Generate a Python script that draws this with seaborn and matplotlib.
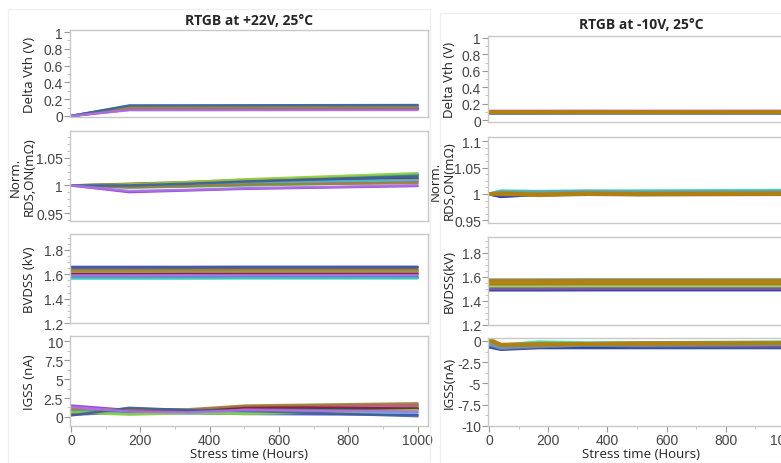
import numpy as np
import pandas as pd
import matplotlib
matplotlib.use("Agg")
import matplotlib.pyplot as plt
import seaborn as sns
from matplotlib.patches import Rectangle
from matplotlib.ticker import AutoMinorLocator

sns.set_style("white")
plt.rcParams['font.family'] = ['Open Sans', 'DejaVu Sans']

# ---------------- data ----------------
left_title = "RTGB at +22V, 25°C"
right_title = "RTGB at -10V, 25°C"
left_ylabels = ["Delta Vth (V)", "RDS,ON(mΩ)", "BVDSS (kV)", "IGSS (nA)"]
right_ylabels = ["Delta Vth (V)", "RDS,ON(mΩ)", "BVDSS(kV)", "IGSS(nA)"]
rds_prefix = "Norm."
xlabel = "Stress time (Hours)"

left_times = [0, 168, 336, 504, 1000]
right_times = [0, 40, 168, 336, 504, 1000]

left_colors = ["#8a3fd8", "#2fb84f", "#3f3fbf", "#1f9f8f", "#a0522d", "#d04f9f",
               "#7f1f2f", "#3fc8c8", "#8fcf3f", "#9f7f3f", "#3f5f9f", "#b070e8"]
right_colors = ["#e07fe0", "#3fd8a0", "#2f2fc8", "#1f3f8f", "#8fcf3f", "#7f5f9f",
                "#5f9fbf", "#c05f3f", "#9f7f3f", "#a87a20", "#b8860b", "#b08010"]

L_VTH = [[0, 0.075, 0.076, 0.076, 0.078], [0, 0.110, 0.110, 0.112, 0.115],
         [0, 0.090, 0.090, 0.090, 0.092], [0, 0.120, 0.120, 0.121, 0.125],
         [0, 0.100, 0.100, 0.101, 0.104], [0, 0.095, 0.096, 0.096, 0.098],
         [0, 0.085, 0.086, 0.086, 0.088], [0, 0.115, 0.116, 0.116, 0.120],
         [0, 0.105, 0.105, 0.106, 0.108], [0, 0.098, 0.099, 0.100, 0.102],
         [0, 0.125, 0.126, 0.127, 0.130], [0, 0.070, 0.070, 0.071, 0.072]]
L_RDS = [[1, 0.988, 0.991, 0.994, 0.999], [1, 0.996, 0.998, 1.000, 1.006],
         [1, 1.000, 1.004, 1.008, 1.020], [1, 1.002, 1.005, 1.009, 1.018],
         [1, 1.003, 1.006, 1.010, 1.014], [1, 0.998, 1.000, 1.003, 1.008],
         [1, 1.001, 1.003, 1.006, 1.012], [1, 0.999, 1.002, 1.005, 1.010],
         [1, 1.002, 1.006, 1.011, 1.022], [1, 0.997, 0.999, 1.002, 1.004],
         [1, 1.000, 1.003, 1.007, 1.016], [1, 0.990, 0.992, 0.995, 1.000]]
L_BV = [[1.575, 1.575, 1.576, 1.576, 1.577], [1.610, 1.610, 1.611, 1.611, 1.612],
        [1.660, 1.660, 1.660, 1.661, 1.661], [1.570, 1.570, 1.570, 1.571, 1.571],
        [1.640, 1.640, 1.641, 1.641, 1.642], [1.620, 1.620, 1.620, 1.621, 1.621],
        [1.600, 1.600, 1.601, 1.601, 1.601], [1.565, 1.565, 1.565, 1.566, 1.566],
        [1.625, 1.625, 1.626, 1.626, 1.627], [1.630, 1.630, 1.630, 1.631, 1.631],
        [1.655, 1.655, 1.655, 1.656, 1.656], [1.590, 1.590, 1.591, 1.591, 1.592]]
L_IGSS = [[1.5, 0.9, 0.8, 1.0, 1.2], [0.8, 0.5, 0.6, 0.7, 1.3],
          [0.3, 0.6, 0.5, 0.4, 0.3], [0.7, 0.9, 0.8, 0.9, 1.0],
          [0.5, 1.1, 0.9, 1.4, 1.6], [1.2, 0.8, 0.7, 1.2, 1.5],
          [0.4, 0.7, 0.8, 1.3, 1.1], [0.9, 0.4, 0.5, 0.5, 0.6],
          [0.6, 0.3, 0.5, 0.4, 0.9], [1.0, 1.0, 1.0, 1.5, 1.8],
          [0.2, 1.2, 0.9, 0.8, 0.1], [1.3, 0.7, 0.6, 0.9, 0.7]]

R_VTH = [[0.110, 0.110, 0.110, 0.111, 0.110, 0.111], [0.100, 0.100, 0.101, 0.100, 0.100, 0.101],
         [0.090, 0.090, 0.090, 0.091, 0.090, 0.090], [0.085, 0.085, 0.085, 0.085, 0.086, 0.085],
         [0.095, 0.095, 0.096, 0.095, 0.095, 0.096], [0.088, 0.088, 0.088, 0.089, 0.088, 0.088],
         [0.092, 0.092, 0.093, 0.092, 0.092, 0.093], [0.098, 0.098, 0.098, 0.099, 0.098, 0.098],
         [0.094, 0.094, 0.095, 0.094, 0.094, 0.095], [0.097, 0.097, 0.097, 0.098, 0.097, 0.097],
         [0.093, 0.093, 0.093, 0.094, 0.093, 0.093], [0.099, 0.099, 0.100, 0.099, 0.099, 0.100]]
R_RDS = [[1.000, 1.002, 1.003, 1.004, 1.003, 1.004], [1.000, 1.006, 1.005, 1.006, 1.006, 1.007],
         [1.000, 0.995, 0.999, 1.001, 1.001, 1.002], [1.000, 0.996, 1.000, 1.002, 1.002, 1.003],
         [1.000, 1.003, 1.002, 1.003, 1.003, 1.004], [1.000, 0.998, 0.999, 1.000, 1.000, 1.001],
         [1.000, 1.004, 1.004, 1.005, 1.004, 1.005], [1.000, 1.001, 0.998, 1.000, 0.999, 1.000],
         [1.000, 1.000, 0.997, 0.999, 0.998, 0.999], [1.000, 1.001, 0.998, 1.000, 0.999, 0.999],
         [1.000, 1.000, 0.998, 1.001, 1.000, 1.001], [1.000, 1.002, 1.000, 1.002, 1.001, 1.002]]
R_BV = [[1.550, 1.550, 1.551, 1.551, 1.551, 1.552], [1.560, 1.560, 1.561, 1.561, 1.561, 1.562],
        [1.490, 1.490, 1.490, 1.491, 1.491, 1.491], [1.495, 1.495, 1.495, 1.496, 1.496, 1.496],
        [1.520, 1.520, 1.520, 1.521, 1.521, 1.521], [1.500, 1.500, 1.500, 1.501, 1.501, 1.501],
        [1.575, 1.575, 1.575, 1.576, 1.576, 1.576], [1.545, 1.545, 1.546, 1.546, 1.546, 1.547],
        [1.565, 1.565, 1.565, 1.566, 1.566, 1.566], [1.540, 1.540, 1.540, 1.541, 1.541, 1.541],
        [1.555, 1.555, 1.555, 1.556, 1.556, 1.557], [1.570, 1.570, 1.570, 1.571, 1.571, 1.571]]
R_IGSS = [[-0.2, -0.6, -0.4, -0.3, -0.3, -0.2], [0.0, -0.5, -0.1, -0.2, -0.2, -0.1],
          [-0.6, -0.9, -0.7, -0.6, -0.6, -0.5], [-0.7, -1.0, -0.8, -0.8, -0.8, -0.8],
          [-0.3, -0.7, -0.5, -0.4, -0.4, -0.3], [-0.5, -0.9, -0.7, -0.5, -0.6, -0.6],
          [-0.4, -0.8, -0.6, -0.5, -0.5, -0.4], [0.1, -0.5, -0.4, -0.3, -0.3, -0.2],
          [0.2, -0.4, -0.3, -0.3, -0.2, -0.2], [0.1, -0.5, -0.4, -0.4, -0.3, -0.3],
          [0.3, -0.4, -0.4, -0.3, -0.3, -0.2], [0.0, -0.5, -0.5, -0.4, -0.4, -0.3]]

# ---------------- layout ----------------
W, H = 781, 464
fig = plt.figure(figsize=(W / 100, H / 100), dpi=100)


def rect(x0, y_top, x1, y_bot):
    return [x0 / W, 1 - y_bot / H, (x1 - x0) / W, (y_bot - y_top) / H]


# faint group frames
fig.patches.append(Rectangle((8 / W, 1 - 464 / H), (430 - 8) / W, (464 - 10) / H,
                             transform=fig.transFigure, fill=False, ec="#f0f0f0", lw=1))
fig.patches.append(Rectangle((440 / W, 1 - 464 / H), (790 - 440) / W, (464 - 14) / H,
                             transform=fig.transFigure, fill=False, ec="#f0f0f0", lw=1))

left_rects = [rect(70, 31, 428, 118), rect(70, 132, 428, 222),
              rect(70, 235, 428, 324), rect(70, 337, 428, 427)]
right_rects = [rect(488, 37, 794, 123), rect(488, 138, 794, 224),
               rect(488, 238, 794, 326), rect(488, 339, 794, 427)]

left_ylims = [(-0.012, 1.024), (0.936, 1.098), (1.2, 1.93), (-1.2, 10.7)]
right_ylims = [(-0.024, 1.024), (0.945, 1.108), (1.2, 1.93), (-10, 0.35)]
left_yticks = [[0, 0.2, 0.4, 0.6, 0.8, 1], [0.95, 1, 1.05], [1.2, 1.4, 1.6, 1.8],
               [0, 2.5, 5, 7.5, 10]]
right_yticks = [[0, 0.2, 0.4, 0.6, 0.8, 1], [0.95, 1, 1.05, 1.1], [1.2, 1.4, 1.6, 1.8],
                [-10, -7.5, -5, -2.5, 0]]

NARROW = ["Liberation Sans Narrow", "Liberation Sans", "DejaVu Sans"]


def fmt(v):
    return "%g" % v


def draw(ax, times, series, colors, lw):
    rows = []
    for i, s in enumerate(series):
        for t, v in zip(times, s):
            rows.append({"t": t, "v": v, "dev": "d%02d" % i})
    df = pd.DataFrame(rows)
    pal = {"d%02d" % i: colors[i % len(colors)] for i in range(len(series))}
    sns.lineplot(data=df, x="t", y="v", hue="dev", palette=pal, estimator=None,
                 legend=False, ax=ax, linewidth=lw, alpha=0.9)


def style(ax, ylim, yticks, ylabel, bottom, label_x):
    ax.set_xlim(-3, 1030)
    ax.set_ylim(*ylim)
    ax.set_yticks(yticks)
    ax.set_yticklabels([fmt(v) for v in yticks], fontsize=10, color="#444444", family=NARROW)
    ax.yaxis.set_minor_locator(AutoMinorLocator(4 if len(yticks) < 5 else 2))
    for sp in ax.spines.values():
        sp.set_color("#c8c8c8")
        sp.set_linewidth(1)
    ax.tick_params(axis="y", which="major", length=4, color="#999999", pad=1, left=True)
    ax.tick_params(axis="y", which="minor", length=2, color="#bbbbbb", left=True)
    ax.set_ylabel(ylabel, fontsize=9.5, color="#222222")
    ax.yaxis.set_label_coords(label_x, 0.5)
    if bottom:
        ax.set_xticks([0, 200, 400, 600, 800, 1000])
        ax.set_xticklabels(["0", "200", "400", "600", "800", "1000"], fontsize=10,
                           color="#444444", family=NARROW)
        ax.xaxis.set_minor_locator(AutoMinorLocator(2))
        ax.tick_params(axis="x", which="major", length=4, color="#999999", bottom=True, pad=1)
        ax.tick_params(axis="x", which="minor", length=2, color="#bbbbbb", bottom=True)
        ax.set_xlabel(xlabel, fontsize=9.5, color="#222222", labelpad=0)
    else:
        ax.set_xticks([])
        ax.set_xlabel("")


left_data = [L_VTH, L_RDS, L_BV, L_IGSS]
right_data = [R_VTH, R_RDS, R_BV, R_IGSS]

for i in range(4):
    ax = fig.add_axes(left_rects[i])
    draw(ax, left_times, left_data[i], left_colors, 1.8)
    style(ax, left_ylims[i], left_yticks[i], left_ylabels[i], i == 3, -0.095)
    if i == 0:
        ax.set_title(left_title, fontsize=10, fontweight="bold", pad=4)
    if i == 1:
        ax.text(-0.134, 0.5, rds_prefix, transform=ax.transAxes, rotation=90,
                ha="right", va="center", fontsize=9.5, color="#222222")

for i in range(4):
    ax = fig.add_axes(right_rects[i])
    draw(ax, right_times, right_data[i], right_colors, 2.2)
    style(ax, right_ylims[i], right_yticks[i], right_ylabels[i], i == 3, -0.104)
    if i == 0:
        ax.set_title(right_title, fontsize=10, fontweight="bold", pad=6)
    if i == 1:
        ax.text(-0.150, 0.5, rds_prefix, transform=ax.transAxes, rotation=90,
                ha="right", va="center", fontsize=9.5, color="#222222")

fig.savefig("out.png", dpi=100)
